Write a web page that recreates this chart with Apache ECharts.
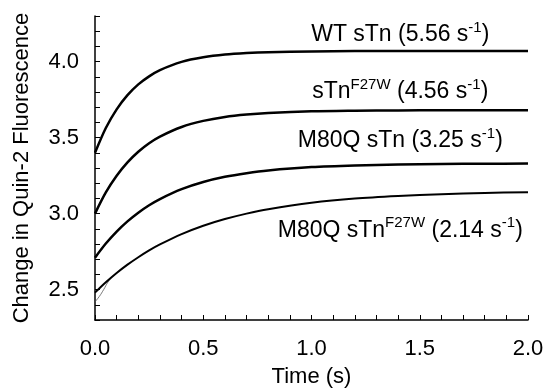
<!DOCTYPE html>
<html>
<head>
<meta charset="utf-8">
<script src="https://cdn.jsdelivr.net/npm/echarts@6/dist/echarts.min.js"></script>
<style>
  html, body { margin: 0; padding: 0; background: #fff; }
  #chart { width: 545px; height: 389px; }
</style>
</head>
<body>
<div id="chart"></div>
<script>
var myChart = echarts.init(document.getElementById('chart'));

// time points (s)
const times = [0, 0.05, 0.1, 0.15, 0.2, 0.25, 0.3, 0.4, 0.5, 0.6, 0.7, 0.8, 1.0, 1.2, 1.4, 1.6, 1.8, 2.0];

// fitted curves, change in fluorescence
const wtSTn      = [3.40, 3.563, 3.686, 3.779, 3.850, 3.903, 3.944, 3.998, 4.028, 4.046, 4.056, 4.062, 4.067, 4.069, 4.070, 4.070, 4.070, 4.070];
const sTnF27W    = [3.00, 3.139, 3.249, 3.337, 3.407, 3.463, 3.507, 3.570, 3.610, 3.636, 3.652, 3.662, 3.673, 3.677, 3.679, 3.680, 3.680, 3.680];
const m80qSTn    = [2.71, 2.803, 2.882, 2.949, 3.006, 3.055, 3.096, 3.161, 3.208, 3.242, 3.266, 3.284, 3.306, 3.317, 3.323, 3.327, 3.328, 3.329];
const m80qF27W   = [2.48, 2.548, 2.609, 2.664, 2.713, 2.758, 2.797, 2.865, 2.920, 2.964, 3.000, 3.029, 3.071, 3.099, 3.116, 3.128, 3.136, 3.141];

// raw trace start of the lowest curve (thin grey line)
const rawTimes = [0, 0.02, 0.04, 0.06, 0.08];
const rawM80qF27W = [2.42, 2.455, 2.50, 2.55, 2.585];

// curve labels
const labelNames = ['WT sTn', 'sTn', 'M80Q sTn', 'M80Q sTn'];
const labelSup = ['', 'F27W', '', 'F27W'];
const labelRates = ['5.56', '4.56', '3.25', '2.14'];
const labelX = [1.41, 1.41, 1.41, 1.41];
const labelY = [4.184, 3.81, 3.49, 2.90];

const pairs = (xs, ys) => xs.map((x, i) => [x, ys[i]]);

const fontFam = '"Liberation Sans", Arial, sans-serif';

const labelText = (i) => {
    let s = '{a|' + labelNames[i] + '}';
    if (labelSup[i]) s += '{sup|' + labelSup[i] + '}';
    s += '{a| (' + labelRates[i] + ' s}{sup|-1}{a|)}';
    return s;
};

const curve = (data, i, width) => ({
    type: 'line',
    data: data,
    smooth: 0.3,
    symbol: 'none',
    lineStyle: { color: '#000', width: width },
    z: 3,
    markPoint: {
        symbol: 'circle',
        symbolSize: 0,
        data: [{ coord: [labelX[i], labelY[i]] }],
        label: {
            show: true,
            position: 'inside',
            formatter: labelText(i),
            rich: {
                a: { fontSize: 23, fontFamily: fontFam, color: '#000', lineHeight: 26, verticalAlign: 'bottom' },
                sup: { fontSize: 15, fontFamily: fontFam, color: '#000', lineHeight: 26, verticalAlign: 'top' }
            }
        }
    }
});

const isMajor = (v) => Math.abs(v * 2 - Math.round(v * 2)) < 1e-6;

option = {
    animation: false,
    backgroundColor: '#fff',
    grid: { left: 95, right: 17, top: 16, bottom: 69, outerBoundsMode: 'none', containLabel: false },
    xAxis: {
        type: 'value',
        min: 0,
        max: 2,
        interval: 0.1,
        name: 'Time (s)',
        nameLocation: 'middle',
        nameGap: 46,
        nameTextStyle: { fontSize: 22, fontFamily: fontFam, color: '#000' },
        axisLine: { lineStyle: { color: '#000', width: 1.5 } },
        axisTick: { inside: true, length: 5, lineStyle: { color: '#000' } },
        axisLabel: {
            fontSize: 22, fontFamily: fontFam, color: '#000', margin: 18,
            formatter: (v) => isMajor(v) ? v.toFixed(1) : ''
        },
        splitLine: { show: false }
    },
    yAxis: {
        type: 'value',
        min: 2.3,
        max: 4.3,
        interval: 0.1,
        name: 'Change in Quin-2 Fluorescence',
        nameLocation: 'middle',
        nameGap: 62,
        nameTextStyle: { fontSize: 22, fontFamily: fontFam, color: '#000' },
        axisLine: { show: true, lineStyle: { color: '#000', width: 1.5 } },
        axisTick: { show: true, inside: true, length: 5, lineStyle: { color: '#000' } },
        axisLabel: {
            fontSize: 22, fontFamily: fontFam, color: '#000', margin: 16,
            formatter: (v) => isMajor(v) ? v.toFixed(1) : ''
        },
        splitLine: { show: false }
    },
    series: [
        {
            type: 'line',
            data: pairs(rawTimes, rawM80qF27W),
            smooth: true,
            symbol: 'none',
            lineStyle: { color: '#555', width: 0.8 },
            z: 2
        },
        curve(pairs(times, wtSTn), 0, 2.5),
        curve(pairs(times, sTnF27W), 1, 2.5),
        curve(pairs(times, m80qSTn), 2, 2.5),
        curve(pairs(times, m80qF27W), 3, 2)
    ]
};

myChart.setOption(option);
</script>
</body>
</html>
